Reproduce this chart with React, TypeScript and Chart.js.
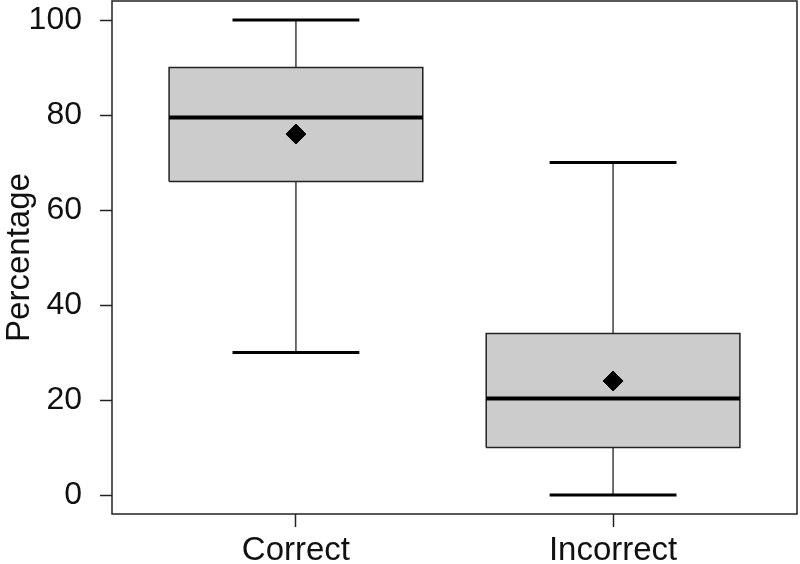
import React, { useEffect, useRef } from 'react';
import { Chart, registerables } from 'chart.js';

Chart.register(...registerables);

const categories = ['Correct', 'Incorrect'];
const lowerWhisker = [30, 0];
const q1 = [66, 10];
const median = [79.5, 20.3];
const q3 = [90, 34];
const upperWhisker = [100, 70];
const means = [76, 24];
const yTicks = [0, 20, 40, 60, 80, 100];

const BOX_HALF = 0.4;
const CAP_HALF = 0.2;
const LINE = '#222222';
const FONT = "'Liberation Sans', Arial, sans-serif";

const framePlugin = {
  id: 'frame',
  afterDatasetsDraw(chart: any) {
    const { ctx, chartArea } = chart;
    ctx.save();
    ctx.strokeStyle = LINE;
    ctx.lineWidth = 1.5;
    ctx.strokeRect(chartArea.left, chartArea.top, chartArea.right - chartArea.left, chartArea.bottom - chartArea.top);
    ctx.restore();
  },
};

function lineDs(data: any[], width: number, extra: any = {}) {
  return {
    type: 'scatter',
    data,
    showLine: true,
    borderColor: LINE,
    borderWidth: width,
    pointRadius: 0,
    pointHoverRadius: 0,
    fill: false,
    tension: 0,
    ...extra,
  };
}

function zeroPad(scale: any) {
  scale.paddingTop = 0;
  scale.paddingBottom = 0;
  scale.paddingLeft = 0;
  scale.paddingRight = 0;
}

export default function App() {
  const ref = useRef<HTMLCanvasElement>(null);

  useEffect(() => {
    const datasets: any[] = [];
    datasets.push({
      type: 'scatter',
      data: means.map((m, i) => ({ x: i + 1, y: m })),
      pointStyle: 'rectRot',
      pointRadius: 10,
      backgroundColor: '#000000',
      borderColor: '#000000',
      borderWidth: 1,
      showLine: false,
    });
    categories.forEach((_, i) => {
      const x = i + 1;
      datasets.push(lineDs([{ x: x - BOX_HALF, y: median[i] }, { x: x + BOX_HALF, y: median[i] }], 4, { borderColor: '#000000' }));
    });
    categories.forEach((_, i) => {
      const x = i + 1;
      datasets.push(lineDs([{ x: x - CAP_HALF, y: upperWhisker[i] }, { x: x + CAP_HALF, y: upperWhisker[i] }], 3, { borderColor: '#000000' }));
      datasets.push(lineDs([{ x: x - CAP_HALF, y: lowerWhisker[i] }, { x: x + CAP_HALF, y: lowerWhisker[i] }], 3, { borderColor: '#000000' }));
    });
    categories.forEach((_, i) => {
      const x = i + 1;
      datasets.push(
        lineDs(
          [
            { x: x - BOX_HALF, y: q1[i] },
            { x: x + BOX_HALF, y: q1[i] },
            { x: x + BOX_HALF, y: q3[i] },
            { x: x - BOX_HALF, y: q3[i] },
            { x: x - BOX_HALF, y: q1[i] },
          ],
          1.5,
          { fill: 'shape', backgroundColor: '#cccccc' }
        )
      );
    });
    categories.forEach((_, i) => {
      const x = i + 1;
      datasets.push(lineDs([{ x, y: q3[i] }, { x, y: upperWhisker[i] }], 1.3));
      datasets.push(lineDs([{ x, y: lowerWhisker[i] }, { x, y: q1[i] }], 1.3));
    });

    const chart = new Chart(ref.current as HTMLCanvasElement, {
      type: 'scatter',
      data: { datasets },
      plugins: [framePlugin],
      options: {
        animation: false,
        responsive: false,
        events: [],
        layout: { autoPadding: false, padding: { top: 1, right: 3, left: 0, bottom: 0 } },
        plugins: { legend: { display: false }, tooltip: { enabled: false } },
        scales: {
          x: {
            type: 'linear',
            min: 0.42,
            max: 2.58,
            afterBuildTicks: (scale: any) => {
              scale.ticks = categories.map((_, i) => ({ value: i + 1 }));
            },
            afterFit: (scale: any) => {
              scale.height = 50;
              zeroPad(scale);
            },
            ticks: {
              autoSkip: false,
              maxRotation: 0,
              callback: (_v: any, idx: number) => categories[idx],
              font: { family: FONT, size: 33 },
              color: '#111111',
              padding: 4,
            },
            grid: { drawOnChartArea: false, drawTicks: true, tickLength: 13, tickColor: LINE, tickWidth: 1.5 },
            border: { display: false },
          },
          y: {
            type: 'linear',
            min: -4,
            max: 104,
            afterBuildTicks: (scale: any) => {
              scale.ticks = yTicks.map((v) => ({ value: v }));
            },
            afterFit: (scale: any) => {
              scale.width = 112;
              zeroPad(scale);
            },
            ticks: {
              font: { family: FONT, size: 32 },
              color: '#111111',
              padding: 18,
            },
            title: {
              display: true,
              text: 'Percentage',
              font: { family: FONT, size: 33 },
              color: '#111111',
              padding: { top: 0, bottom: 0 },
            },
            grid: { drawOnChartArea: false, drawTicks: true, tickLength: 12, tickColor: LINE, tickWidth: 1.5 },
            border: { display: false },
          },
        },
      },
    } as any);
    return () => chart.destroy();
  }, []);

  return (
    <div style={{ position: 'fixed', left: 0, top: 0, width: 800, height: 564, background: '#ffffff' }}>
      <canvas ref={ref} width={800} height={564} />
    </div>
  );
}
